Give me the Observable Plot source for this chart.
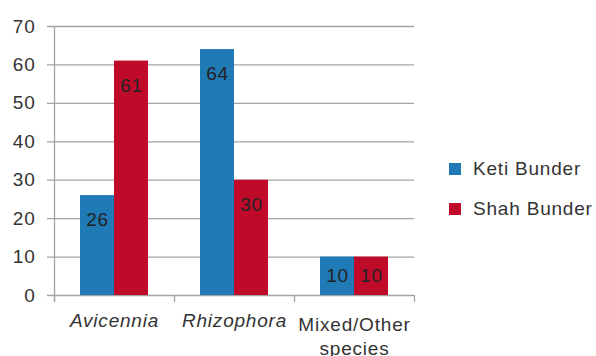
<!DOCTYPE html>
<html><head><meta charset="utf-8">
<script src="https://cdn.jsdelivr.net/npm/d3@7"></script>
<script src="https://cdn.jsdelivr.net/npm/@observablehq/plot@0.6"></script>
<style>
body{margin:0;background:#fff;font-family:"Liberation Sans",Arial,sans-serif;}
#wrap{position:relative;width:596px;height:356px;overflow:hidden;}
#chart{position:absolute;left:0;top:0;}
#legend{position:absolute;left:449px;top:156px;font-size:19px;color:#333;letter-spacing:0.8px;}
.item{display:flex;align-items:center;height:26px;margin-bottom:14px;white-space:nowrap;}
.sw{width:12px;height:12px;margin-right:12px;flex:none;}
</style></head><body><div id="wrap"><div id="chart"></div><div id="legend"></div></div>
<script>
const categories = ["Avicennia", "Rhizophora", "Mixed/Other species"];
const italicCategories = ["Avicennia", "Rhizophora"];
const categoryLabels = ["Avicennia", "Rhizophora", "Mixed/Other\nspecies"];
const series = ["Keti Bunder", "Shah Bunder"];
const ketiBunder = [26, 64, 10];
const shahBunder = [61, 30, 10];
const yTicks = [0, 10, 20, 30, 40, 50, 60, 70];
const colors = ["#1f7ab6", "#c00a2a"];

const W = 430, H = 356, mL = 54, mR = 16, mT = 26, mB = 61;
const plotH = H - mT - mB;
const half = (W - mL - mR) / categories.length / 2;
const gray = "#a3a3a3";

const rows = [];
categories.forEach((c, i) => {
  rows.push({category: c, series: series[0], value: ketiBunder[i]});
  rows.push({category: c, series: series[1], value: shahBunder[i]});
});
const labelOf = c => categoryLabels[categories.indexOf(c)];
const barOpts = (s) => s === series[0]
  ? {insetLeft: 26, insetRight: 60, dx: -17}
  : {insetLeft: 60, insetRight: 26, dx: 17};

const marks = [
  Plot.ruleY(yTicks, {y: d => d, stroke: gray, strokeWidth: 1.3, insetLeft: -7}),
];
series.forEach((s, si) => {
  const data = rows.filter(r => r.series === s);
  const o = barOpts(s);
  marks.push(Plot.barY(data, {x: "category", y: "value", fill: colors[si], insetLeft: o.insetLeft, insetRight: o.insetRight}));
  marks.push(Plot.text(data.filter(d => d.value >= 15), {x: "category", y: "value", text: d => String(d.value), dx: o.dx, dy: 17, lineAnchor: "top", fill: "#222", fontSize: 19}));
  marks.push(Plot.text(data.filter(d => d.value < 15), {x: "category", y: d => d.value / 2, text: d => String(d.value), dx: o.dx, lineAnchor: "middle", fill: "#222", fontSize: 19}));
});
marks.push(
  Plot.ruleX([categories[0]], {x: d => d, dx: -half, insetBottom: -7, stroke: gray, strokeWidth: 1.3}),
  Plot.ruleX(categories, {x: d => d, dx: -half, insetTop: plotH, insetBottom: -7, stroke: gray, strokeWidth: 1.3}),
  Plot.ruleX([categories[categories.length - 1]], {x: d => d, dx: half, insetTop: plotH, insetBottom: -7, stroke: gray, strokeWidth: 1.3}),
  Plot.text(yTicks, {y: d => d, text: d => String(d), frameAnchor: "left", textAnchor: "end", dx: -19, fill: "#333", fontSize: 19}),
  Plot.text(categories.filter(c => italicCategories.includes(c)), {x: d => d, text: labelOf, frameAnchor: "bottom", lineAnchor: "top", dy: 18, fontStyle: "italic", fill: "#333", fontSize: 19}),
  Plot.text(categories.filter(c => !italicCategories.includes(c)), {x: d => d, text: labelOf, frameAnchor: "bottom", lineAnchor: "top", dy: 18, lineHeight: 1.27, fill: "#333", fontSize: 19})
);

const chart = Plot.plot({
  width: W, height: H,
  marginLeft: mL, marginRight: mR, marginTop: mT, marginBottom: mB,
  x: {domain: categories, padding: 0, axis: null},
  y: {domain: [0, 70], axis: null},
  style: {fontFamily: "'Liberation Sans', Arial, sans-serif", letterSpacing: "0.8px", background: "#fff", overflow: "visible"},
  marks
});
document.getElementById("chart").appendChild(chart);

const legend = document.getElementById("legend");
series.forEach((s, i) => {
  const item = document.createElement("div");
  item.className = "item";
  const sw = document.createElement("span");
  sw.className = "sw";
  sw.style.background = colors[i];
  const t = document.createElement("span");
  t.textContent = s;
  item.appendChild(sw); item.appendChild(t);
  legend.appendChild(item);
});
</script></body></html>
